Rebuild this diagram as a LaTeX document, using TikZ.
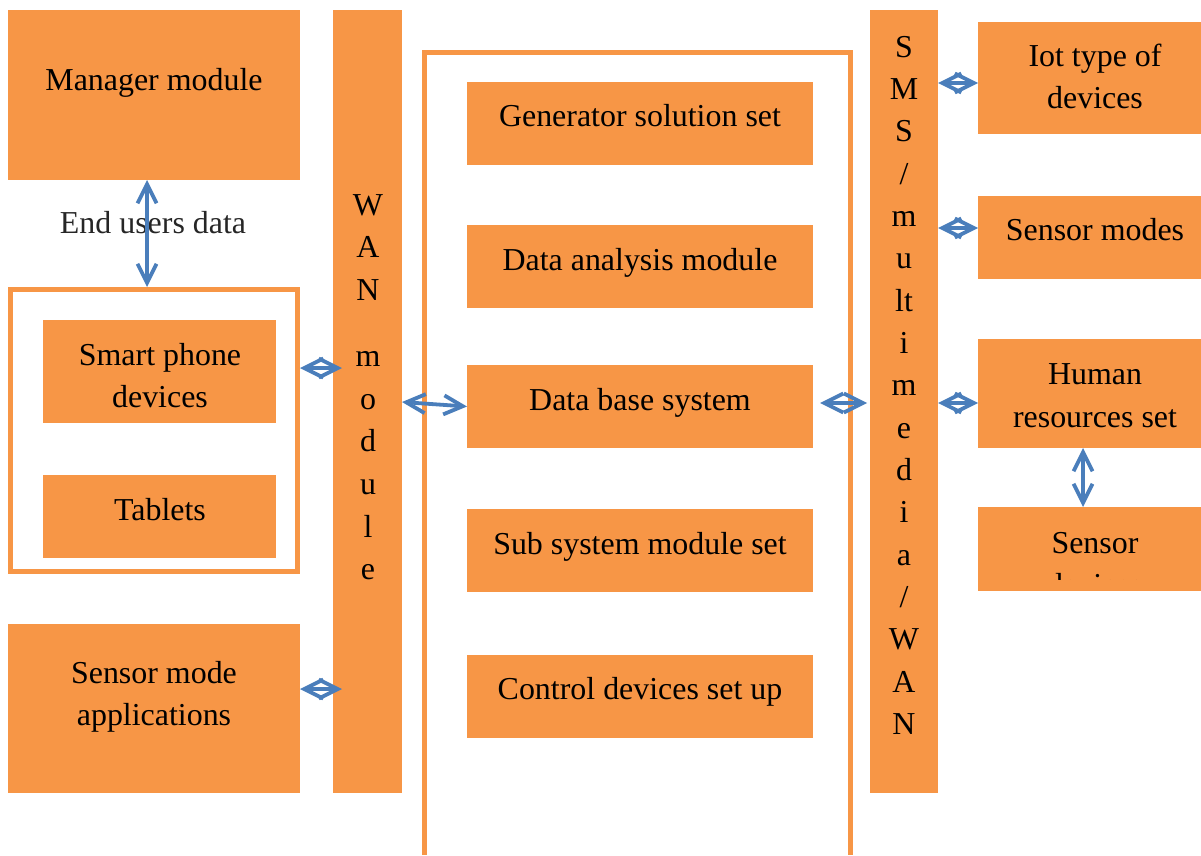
\documentclass[tikz,border=0pt]{standalone}
\usepackage{fontspec}
\setmainfont{Liberation Serif}
\usetikzlibrary{arrows.meta,calc}
\definecolor{orng}{HTML}{F79646}
\definecolor{arrblue}{HTML}{4A7EBB}
\def\u{0.025cm}
\tikzset{
  box/.style={fill=orng, draw=none, inner sep=0pt, outer sep=0pt, anchor=north west},
  frame/.style={draw=orng, line width=5*\u, fill=none, inner sep=0pt, anchor=north west},
  txt/.style={anchor=base, inner sep=0pt, font=\fontsize{22.7}{30}\selectfont, text=black},
  arr/.style={draw=arrblue, line width=3.8*\u,
    {Straight Barb[length=19*\u,width=19*\u]}-{Straight Barb[length=19*\u,width=19*\u]}},
}
\begin{document}
\begin{tikzpicture}[x=0.025cm,y=-0.025cm]
\useasboundingbox (0,0) rectangle (1201,855);
% left column
\node[box, minimum width=292*\u, minimum height=170*\u] (mgr) at (8,10) {};
\node[txt] (tmgr) at (154,90) {Manager module};
\node[txt, text=black!85] (teu) at (153,233) {End users data};
\node[frame, minimum width=287*\u, minimum height=282*\u] (lframe) at (8,287) {};
\node[box, minimum width=233*\u, minimum height=103*\u] (phone) at (43,320) {};
\node[txt] (tphone1) at (160,365) {Smart phone};
\node[txt] (tphone2) at (160,407) {devices};
\node[box, minimum width=233*\u, minimum height=83*\u] (tab) at (43,475) {};
\node[txt] (ttab) at (160,520) {Tablets};
\node[box, minimum width=292*\u, minimum height=169*\u] (sma) at (8,624) {};
\node[txt] (tsma1) at (154,683) {Sensor mode};
\node[txt] (tsma2) at (154,725) {applications};
% WAN bar
\node[box, minimum width=69*\u, minimum height=783*\u] (wan) at (333,10) {};
\foreach \l/\yy [count=\i] in {W/215,A/257,N/300,m/366,o/409,d/451,u/494,l/537,e/579}
  \node[txt] (wan\i) at (368,\yy) {\l};
% middle frame
\path[draw=orng, line width=5*\u] (424.5,855) -- (424.5,52.5) -- (850.5,52.5) -- (850.5,855);
\node[box, minimum width=346*\u, minimum height=83*\u] (gen) at (467,82) {};
\node[txt] (tgen) at (640,126) {Generator solution set};
\node[box, minimum width=346*\u, minimum height=83*\u] (dam) at (467,225) {};
\node[txt] (tdam) at (640,270) {Data analysis module};
\node[box, minimum width=346*\u, minimum height=83*\u] (db) at (467,365) {};
\node[txt] (tdb) at (640,410) {Data base system};
\node[box, minimum width=346*\u, minimum height=83*\u] (sub) at (467,509) {};
\node[txt] (tsub) at (640,554) {Sub system module set};
\node[box, minimum width=346*\u, minimum height=83*\u] (ctl) at (467,655) {};
\node[txt] (tctl) at (640,699) {Control devices set up};
% SMS bar
\node[box, minimum width=68*\u, minimum height=783*\u] (sms) at (870,10) {};
\foreach \l [count=\i] in {S,M,S,/,m,u,lt,i,m,e,d,i,a,/,W,A,N}
  \node[txt] (sms\i) at (904,{57+42.35*(\i-1)}) {\l};
% right column
\node[box, minimum width=223*\u, minimum height=112*\u] (iot) at (978,22) {};
\node[txt] (tiot1) at (1095,66) {Iot type of};
\node[txt] (tiot2) at (1095,108) {devices};
\node[box, minimum width=223*\u, minimum height=83*\u] (sen) at (978,196) {};
\node[txt] (tsen) at (1095,240) {Sensor modes};
\node[box, minimum width=223*\u, minimum height=109*\u] (hum) at (978,339) {};
\node[txt] (thum1) at (1095,384) {Human};
\node[txt] (thum2) at (1095,427) {resources set};
\node[box, minimum width=223*\u, minimum height=84*\u] (sdev) at (978,507) {};
\node[txt] (tsdev1) at (1095,553) {Sensor};
\begin{scope}
  \clip (978,507) rectangle (1201,579);
  \node[txt] (tsdev2) at (1095,595) {devices};
\end{scope}
% connectors
\coordinate (eu) at (147,0);
\draw[arr] (eu |- mgr.south) -- (eu |- lframe.north);
\coordinate (cph) at (342,368);
\draw[arr] (lframe.east |- cph) -- (cph);
\coordinate (csm) at (342,689);
\draw[arr] (sma.east |- csm) -- (csm);
\coordinate (cw) at (0,402);
\draw[arr] (wan.east |- cw) -- (db.west);
\coordinate (cd1) at (820,403);
\coordinate (cd2) at (867,403);
\draw[arr] (cd1) -- (cd2);
\coordinate (ci) at (0,83);
\draw[arr] (sms.east |- ci) -- (iot.west |- ci);
\coordinate (cs) at (0,228);
\draw[arr] (sms.east |- cs) -- (sen.west |- cs);
\coordinate (ch) at (0,403);
\draw[arr] (sms.east |- ch) -- (hum.west |- ch);
\coordinate (cv) at (1083,0);
\draw[arr] (cv |- hum.south) -- (cv |- sdev.north);
\end{tikzpicture}
\end{document}
